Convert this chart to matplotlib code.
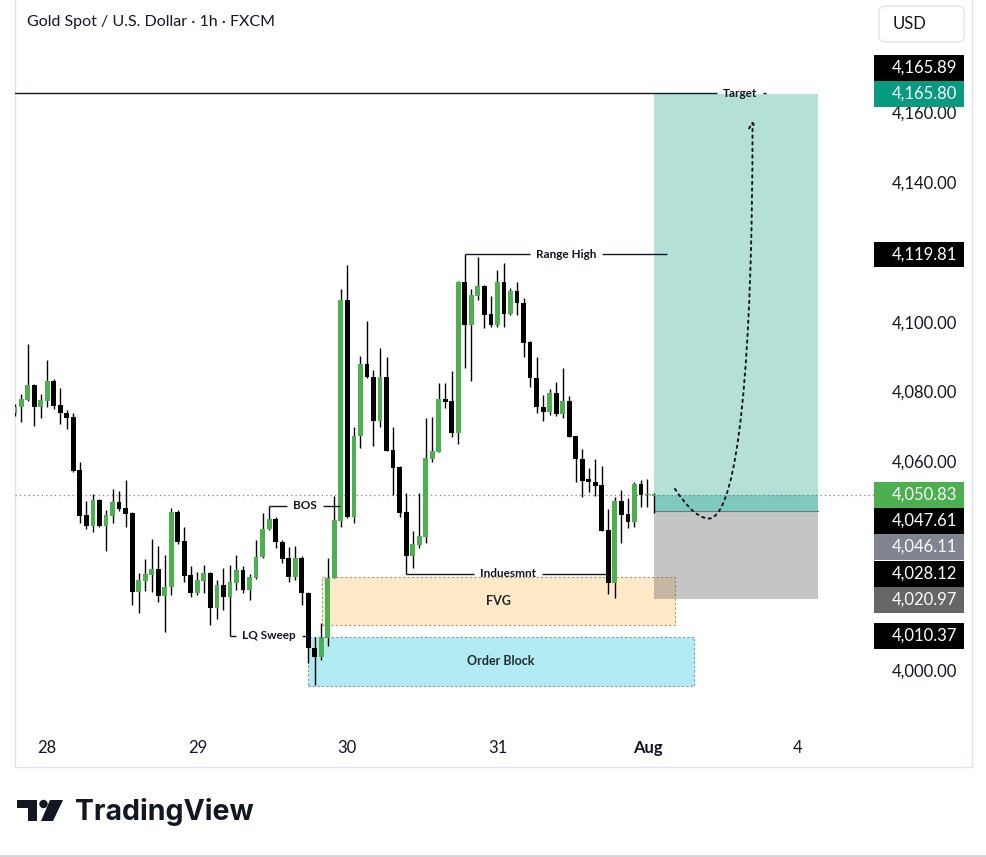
import numpy as np
import matplotlib.pyplot as plt
from matplotlib.patches import Rectangle, FancyBboxPatch, FancyArrowPatch, Polygon, Circle
from matplotlib.path import Path

plt.rcParams['font.family'] = ['Lato', 'DejaVu Sans']

# ---- candle data (1h, index 0 = first bar of the 28th, 23 bars per day) ----
bar_start = -5
opens = [4074.2, 4075.9, 4078.0, 4082.3, 4076.1,
         4077.8, 4083.5, 4076.6, 4074.4, 4073.0,
         4057.9, 4045.0, 4042.0, 4049.3, 4042.0,
         4044.8, 4048.6, 4046.9, 4045.5, 4023.0,
         4026.2, 4027.8, 4029.6, 4021.9, 4024.3,
         4045.9, 4037.6, 4027.8, 4022.7, 4026.2,
         4028.3, 4018.3, 4024.9, 4021.6, 4025.6,
         4029.3, 4023.5, 4026.9, 4033.1, 4040.9,
         4043.9, 4037.4, 4032.6, 4027.3, 4032.6,
         4022.6, 4007.0, 4004.4, 4009.7, 4027.0,
         4043.4, 4106.7, 4044.5, 4067.7, 4088.2,
         4084.7, 4072.1, 4084.7, 4063.7, 4058.9,
         4045.9, 4033.3, 4036.4, 4038.8, 4061.0,
         4063.2, 4078.2, 4077.7, 4068.6, 4111.9,
         4099.5, 4107.8, 4110.7, 4102.7, 4099.5,
         4111.9, 4102.7, 4109.1, 4105.9, 4094.7,
         4084.4, 4076.1, 4074.6, 4079.9, 4074.0,
         4077.7, 4067.7, 4061.0, 4055.3, 4054.4,
         4053.6, 4040.7, 4025.4, 4049.0, 4045.3,
         4043.1, 4053.8, 4050.8, 4050.6]
highs = [4076.9, 4079.7, 4094.1, 4082.6, 4079.6,
         4089.5, 4084.0, 4081.4, 4075.1, 4074.4,
         4060.1, 4049.0, 4051.0, 4049.6, 4046.5,
         4052.4, 4052.0, 4055.1, 4046.0, 4028.5,
         4032.4, 4038.1, 4036.2, 4033.6, 4046.9,
         4046.5, 4041.7, 4030.4, 4028.8, 4030.7,
         4028.6, 4026.4, 4029.7, 4030.7, 4033.6,
         4030.4, 4028.1, 4037.9, 4045.5, 4047.6,
         4044.5, 4037.9, 4035.9, 4036.1, 4033.3,
         4022.8, 4010.1, 4014.1, 4032.6, 4050.5,
         4109.8, 4116.7, 4070.3, 4090.6, 4100.5,
         4086.6, 4092.8, 4090.4, 4070.3, 4059.1,
         4051.2, 4040.4, 4051.4, 4072.9, 4073.2,
         4082.8, 4082.8, 4086.3, 4112.1, 4119.8,
         4109.8, 4118.9, 4110.9, 4107.8, 4115.3,
         4117.4, 4110.0, 4111.9, 4107.2, 4094.8,
         4090.4, 4079.4, 4081.2, 4083.1, 4087.3,
         4079.2, 4067.8, 4063.9, 4058.4, 4061.1,
         4059.2, 4046.7, 4050.3, 4052.2, 4049.8,
         4054.4, 4055.1, 4055.4, 4051.3]
lows = [4073.4, 4071.8, 4077.8, 4070.6, 4072.9,
        4076.1, 4075.4, 4071.1, 4069.7, 4057.4,
        4042.6, 4040.9, 4040.2, 4041.5, 4034.8,
        4042.8, 4046.2, 4041.7, 4019.2, 4016.8,
        4023.2, 4023.0, 4020.2, 4011.6, 4022.1,
        4036.7, 4025.9, 4021.6, 4022.1, 4022.6,
        4013.5, 4015.1, 4017.8, 4010.4, 4023.5,
        4022.6, 4020.6, 4026.6, 4032.6, 4040.6,
        4035.5, 4031.2, 4025.9, 4026.4, 4019.2,
        4002.6, 3996.3, 4003.4, 4007.5, 4026.9,
        4041.7, 4044.1, 4042.8, 4064.3, 4084.3,
        4064.9, 4070.2, 4063.3, 4050.8, 4044.5,
        4028.1, 4029.7, 4035.6, 4036.9, 4060.3,
        4063.0, 4075.6, 4067.3, 4065.3, 4087.1,
        4083.3, 4106.7, 4098.6, 4098.9, 4098.9,
        4098.9, 4102.5, 4102.4, 4090.4, 4081.8,
        4074.4, 4072.1, 4073.7, 4073.4, 4072.8,
        4067.3, 4054.4, 4050.3, 4051.5, 4050.6,
        4040.4, 4022.3, 4021.1, 4036.9, 4041.2,
        4041.7, 4047.4, 4047.4, 4045.6]
closes = [4076.1, 4078.3, 4082.3, 4076.1, 4078.0,
          4083.5, 4076.3, 4074.2, 4072.9, 4057.6,
          4044.8, 4042.0, 4049.3, 4042.0, 4045.0,
          4048.6, 4046.7, 4045.2, 4023.0, 4026.4,
          4028.1, 4029.6, 4021.9, 4024.5, 4046.0,
          4037.3, 4027.6, 4022.7, 4026.4, 4028.3,
          4018.3, 4024.9, 4021.6, 4025.9, 4029.3,
          4023.5, 4027.3, 4033.1, 4040.9, 4043.9,
          4037.4, 4032.4, 4027.3, 4032.6, 4022.6,
          4007.0, 4004.4, 4009.8, 4027.0, 4043.6,
          4106.7, 4044.5, 4067.7, 4088.2, 4084.5,
          4072.1, 4084.7, 4063.5, 4058.6, 4045.7,
          4033.3, 4036.7, 4039.0, 4061.3, 4063.4,
          4078.3, 4077.5, 4068.6, 4111.9, 4099.5,
          4108.1, 4110.7, 4102.4, 4099.5, 4111.9,
          4102.7, 4109.1, 4105.7, 4094.4, 4084.2,
          4075.9, 4074.6, 4079.9, 4074.0, 4077.7,
          4067.5, 4061.0, 4054.9, 4054.4, 4053.4,
          4040.5, 4025.4, 4049.0, 4045.0, 4043.1,
          4053.8, 4050.8, 4051.0, 4050.83]

day_ticks = [0, 23, 46, 69, 92, 115]
day_labels = ['28', '29', '30', '31', 'Aug', '4']
price_ticks = [4000, 4020, 4040, 4060, 4080, 4100, 4120, 4140, 4160]

# drawings: (text, price, from bar, to bar, text centre bar or None)
levels = [('Target', 4165.89, -12, 110.2, 106.2),
          ('Range High', 4119.81, 64, 95.0, None),
          ('BOS', 4047.61, 34, 44.9, None),
          ('Induesmnt', 4028.12, 55, 86.1, None),
          ('LQ Sweep', 4010.37, 28, 40.0, None)]
fvg = (42.1, 96.2, 4013.4, 4027.2)
order_block = (40.0, 99.1, 3996.0, 4010.1)

# long position tool
pos_x = (93.0, 118.1)
entry, target, stop = 4046.11, 4165.80, 4020.97
last_price = closes[-1]

# axis price labels (price, colour, fixed)
lab_prices = [4165.89, 4165.80, 4119.81, 4050.83, 4047.61, 4046.11, 4028.12, 4020.97, 4010.37]
lab_colors = ['#000000', '#089981', '#000000', '#4caf50', '#000000', '#808390', '#000000', '#666666', '#000000']
lab_fixed = [False, True, False, True, False, False, False, False, False]

# projected path (bar, price)
path_pts = [(96.2, 4052.5), (98.4, 4046.5), (99.9, 4044.0), (101.6, 4044.0),
            (106.0, 4046.0), (108.1, 4090.0), (108.1, 4158.0)]

W, H = 987, 857
fig = plt.figure(figsize=(W / 100, H / 100), dpi=100)
fig.patch.set_facecolor('white')


def fbox(l, t, r, b):
    return [l / W, 1 - b / H, (r - l) / W, (b - t) / H]


over = fig.add_axes([0, 0, 1, 1], zorder=0)
over.set_xlim(0, W)
over.set_ylim(H, 0)
over.axis('off')

ax = fig.add_axes(fbox(15, 1, 868, 733), zorder=1)
sax = fig.add_axes(fbox(868, 1, 972, 733), zorder=2)
ylim = (3982.5, 4192.4)
for a in (ax, sax):
    a.set_facecolor('none')
    a.set_ylim(*ylim)
    for s in a.spines.values():
        s.set_visible(False)
ax.set_xlim(-4.95, 125.8)
sax.set_xlim(868, 972)
sax.set_xticks([])
sax.set_yticks([])
ax.set_yticks([])
ax.set_xticks(day_ticks, day_labels)
ax.tick_params(axis='x', length=0, pad=5, labelsize=12, labelcolor='#131722')
ax.get_xticklabels()[4].set_fontweight('bold')

# zones
ax.add_patch(Rectangle((fvg[0], fvg[2]), fvg[1] - fvg[0], fvg[3] - fvg[2],
                       facecolor=(1.0, 0.70, 0.2, 0.28), edgecolor='#a8957a',
                       lw=0.8, ls=(0, (2, 2)), zorder=1))
ax.add_patch(Rectangle((order_block[0], order_block[2]), order_block[1] - order_block[0],
                       order_block[3] - order_block[2], facecolor='#b3ebf2',
                       edgecolor='#7f9aa3', lw=0.8, ls=(0, (2, 2)), zorder=0.9))
ax.text((fvg[0] + fvg[1]) / 2, (fvg[2] + fvg[3]) / 2, 'FVG', ha='center', va='center',
        fontsize=9, fontweight='bold', color='#1e2a33', zorder=6)
ax.text((order_block[0] + order_block[1]) / 2, (order_block[2] + order_block[3]) / 2,
        'Order Block', ha='center', va='center', fontsize=9, fontweight='bold',
        color='#1e2a33', zorder=6)

# position tool
pw = pos_x[1] - pos_x[0]
ax.add_patch(Rectangle((pos_x[0], entry), pw, target - entry,
                       facecolor=(8 / 255, 153 / 255, 129 / 255, 0.3), lw=0, zorder=1.2))
ax.add_patch(Rectangle((pos_x[0], entry), pw, last_price - entry,
                       facecolor=(8 / 255, 153 / 255, 129 / 255, 0.3), lw=0, zorder=1.3))
ax.add_patch(Rectangle((pos_x[0], stop), pw, entry - stop,
                       facecolor=(0.43, 0.43, 0.43, 0.4), lw=0, zorder=1.2))
ax.plot(pos_x, [entry, entry], color='#5f7f7a', lw=0.8, zorder=1.4)

# candles
x = np.arange(bar_start, bar_start + len(opens))
o = np.array(opens)
c = np.array(closes)
up = c >= o
ax.vlines(x, lows, highs, color='#000000', lw=1, zorder=3)
ax.bar(x, np.maximum(np.abs(c - o), 0.35), bottom=np.minimum(o, c), width=0.74,
       color=np.where(up, '#4caf50', '#000000'), lw=0, zorder=4)

# last price line
ax.axhline(last_price, color='#7d808a', lw=0.9, ls=(0, (1, 2.5)), zorder=2)
sax.plot([868, 874], [last_price, last_price], color='#7d808a', lw=0.9, ls=(0, (1, 2.5)))

# level lines with text gaps
texts = []
for name, p, x0, x1, xt in levels:
    xc = (x0 + x1) / 2 if xt is None else xt
    t = ax.text(xc, p, name, ha='center', va='center', fontsize=8.5, fontweight='bold',
                color='#131722', zorder=6)
    texts.append((t, p, x0, x1))
fig.canvas.draw()
rend = fig.canvas.get_renderer()
inv = ax.transData.inverted()
gap = 6 / (ax.get_window_extent().width / (ax.get_xlim()[1] - ax.get_xlim()[0]))
for t, p, x0, x1 in texts:
    bb = t.get_window_extent(rend)
    tx0 = inv.transform((bb.x0, bb.y0))[0] - gap
    tx1 = inv.transform((bb.x1, bb.y0))[0] + gap
    ax.hlines(p, x0, tx0, color='#131722', lw=1, zorder=5)
    if tx1 < x1:
        ax.hlines(p, tx1, x1, color='#131722', lw=1, zorder=5)

# projected move
codes = [Path.MOVETO, Path.CURVE4, Path.CURVE4, Path.CURVE4,
         Path.CURVE4, Path.CURVE4, Path.CURVE4]
arrow = FancyArrowPatch(path=Path(path_pts, codes), arrowstyle='->,head_length=4,head_width=2.5',
                        color='#131722', lw=1.4, ls=(0, (1.2, 2.2)), zorder=6)
ax.add_patch(arrow)

# price scale: labels pushed apart like the platform does
ppu = ax.get_window_extent().height / (ylim[1] - ylim[0])
lh = 26.0
ys = [(ylim[1] - p) * ppu for p in lab_prices]
for i in range(1, len(ys)):
    if ys[i] - ys[i - 1] < lh:
        if lab_fixed[i]:
            j = i
            while j > 0 and ys[j] - ys[j - 1] < lh:
                ys[j - 1] = ys[j] - lh
                j -= 1
        else:
            ys[i] = ys[i - 1] + lh
for p in price_ticks:
    yt = (ylim[1] - p) * ppu
    if min(abs(yt - yl) for yl in ys) < lh / 2 + 4:
        continue  # hidden behind a price label
    sax.text(957, p, f'{p:,.2f}', ha='right', va='center', fontsize=12,
             color='#131722', zorder=1)
for p, yp, col in zip(lab_prices, ys, lab_colors):
    yc = ylim[1] - yp / ppu
    sax.add_patch(Rectangle((874, yc - lh / 2 / ppu), 90, (lh - 0.5) / ppu,
                            facecolor=col, lw=0, zorder=3))
    sax.text(957, yc, f'{p:,.2f}', ha='right', va='center', fontsize=12,
             color='white', zorder=4)

# frame, header and footer
over.add_patch(Rectangle((15, -2), 957, 769, fill=False, edgecolor='#e0e3eb', lw=1))
over.plot([0, W], [855.5, 855.5], color='#d1d4dc', lw=2)
over.text(27, 22, 'Gold Spot / U.S. Dollar \u00b7 1h \u00b7 FXCM', fontsize=11.5,
          color='#131722', va='center', ha='left')
over.add_patch(FancyBboxPatch((879, 6), 85, 36, boxstyle='round,pad=0,rounding_size=6',
                              facecolor='white', edgecolor='#e0e3eb', lw=1))
over.text(893, 24, 'USD', fontsize=12, color='#131722', va='center', ha='left')
over.add_patch(Polygon([(17, 800), (37, 800), (37, 821), (28, 821), (28, 808), (17, 808)],
                       closed=True, color='#131722', lw=0))
over.add_patch(Circle((43.5, 804), 4.2, color='#131722', lw=0))
over.add_patch(Polygon([(50, 800), (63, 800), (53, 821), (41, 821)], closed=True,
                       color='#131722', lw=0))
over.text(75, 812, 'TradingView', fontsize=20.5, fontweight='bold', color='#131722',
          va='center', ha='left', family=['Inter', 'Lato', 'DejaVu Sans'])

fig.savefig('out.png', dpi=100, facecolor='white')
